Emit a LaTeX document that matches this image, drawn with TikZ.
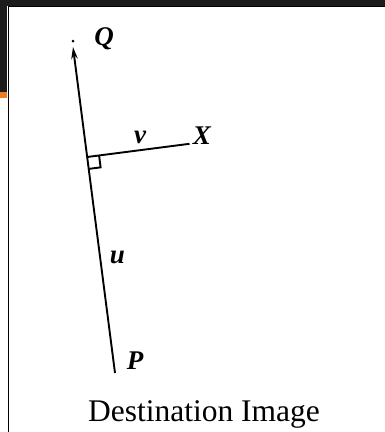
\documentclass[tikz,border=0pt]{standalone}
\usepackage{fontspec}
\setmainfont{Liberation Serif}
\usetikzlibrary{arrows.meta,calc}
\definecolor{slidebg}{HTML}{1C1C1C}
\definecolor{slideorange}{HTML}{EE7D22}

\begin{document}
\begin{tikzpicture}[x=1pt,y=-1pt,
  lbl/.style={font=\fontsize{27}{30}\selectfont\bfseries\itshape, inner sep=0pt, anchor=base},
  seg/.style={line width=1.9pt}]
\useasboundingbox (0,0) rectangle (385,432);

% slide edge round the figure
\fill[slidebg] (0,0) rectangle (385,6);
\fill[slidebg] (0,0) rectangle (7,92);
\fill[slideorange] (0,92) rectangle (7,98);
\draw[line width=1.7pt] (8.5,6) -- (8.5,432);
\draw[line width=1pt] (8,6.5) -- (385,6.5);

% points
\coordinate (P) at (115,373);
\coordinate (Q) at (73,41);
\coordinate (Qtip) at (73,47);
\coordinate (F) at ($(P)!0.6626!(Qtip)$);
\coordinate (X) at (189.5,143.8);

% u and v
\draw[seg,-{Stealth[length=12pt,width=6.5pt]}] (P) -- (Qtip);
\fill (Q) circle (1.5pt);
\draw[seg] (F) -- (X);

% right angle mark
\coordinate (ra) at ($(F)!12pt!(X)$);
\coordinate (rc) at ($(F)!12pt!(P)$);
\draw[seg] (ra) -- ($(ra)+(rc)-(F)$) -- (rc);

% labels
\node[lbl] (qlabel) at (104,45) {Q};
\node[lbl] (xlabel) at (202,144) {X};
\node[lbl] (vlabel) at (140,143) {v};
\node[lbl] (ulabel) at (117.5,263) {u};
\node[lbl] (plabel) at (135,369) {P};
\node[font=\fontsize{31.5}{36}\selectfont, anchor=base, inner sep=0pt] (caption) at (204,421.7) {Destination Image};

\end{tikzpicture}
\end{document}
